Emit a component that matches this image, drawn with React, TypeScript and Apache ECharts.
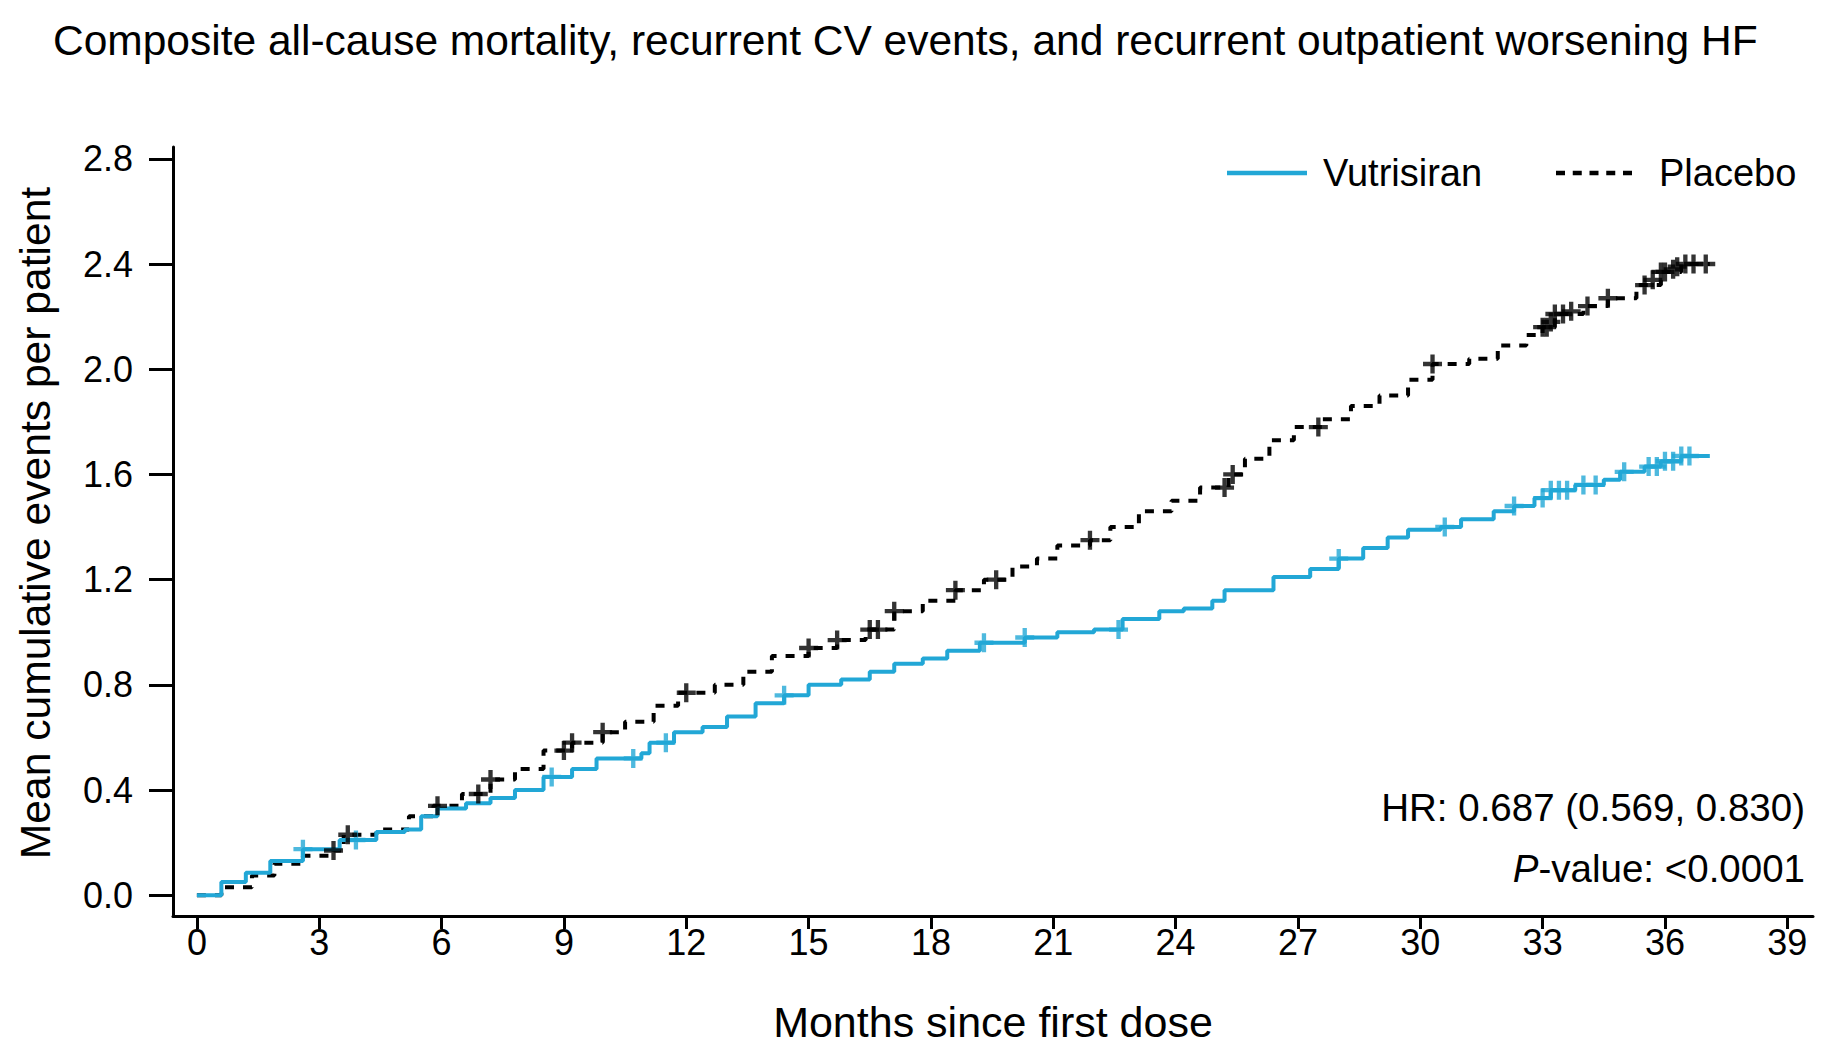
import React, { useEffect, useRef } from "react";
import * as echarts from "echarts";

const FONT = "'Liberation Sans', Arial, Helvetica, sans-serif";
const BLUE = "#22a7d6";

const titleText =
  "Composite all-cause mortality, recurrent CV events, and recurrent outpatient worsening HF";
const xAxisName = "Months since first dose";
const yAxisName = "Mean cumulative events per patient";
const xTicks = [0, 3, 6, 9, 12, 15, 18, 21, 24, 27, 30, 33, 36, 39];
const yTicks = [0, 0.4, 0.8, 1.2, 1.6, 2.0, 2.4, 2.8];

const vutrisiran: [number, number][] = [
  [0, 0], [0.6, 0.05], [1.2, 0.085], [1.8, 0.13], [2.6, 0.175], [3.5, 0.21], [4.4, 0.24],
  [5.1, 0.25], [5.5, 0.3], [5.9, 0.33], [6.6, 0.35], [7.2, 0.37], [7.8, 0.4], [8.5, 0.45],
  [9.2, 0.48], [9.8, 0.52], [10.9, 0.54], [11.1, 0.58], [11.7, 0.62], [12.4, 0.64],
  [13.0, 0.68], [13.7, 0.73], [14.4, 0.76], [15.0, 0.8], [15.8, 0.82], [16.5, 0.85],
  [17.1, 0.88], [17.8, 0.9], [18.4, 0.93], [19.2, 0.96], [20.3, 0.98], [21.1, 1.0],
  [22.0, 1.01], [22.7, 1.05], [23.6, 1.08], [24.2, 1.09], [24.9, 1.12], [25.2, 1.16],
  [26.4, 1.21], [27.3, 1.24], [28.0, 1.28], [28.6, 1.32], [29.2, 1.36], [29.7, 1.39],
  [30.5, 1.4], [31.0, 1.43], [31.8, 1.46], [32.3, 1.48], [32.8, 1.51], [33.2, 1.54],
  [33.8, 1.56], [34.5, 1.58], [34.9, 1.61], [35.5, 1.63], [35.9, 1.65], [36.4, 1.67],
  [37.1, 1.67],
];

const placebo: [number, number][] = [
  [0, 0], [0.6, 0.03], [1.35, 0.075], [1.9, 0.12], [2.6, 0.15], [3.35, 0.17], [3.6, 0.23],
  [4.4, 0.25], [5.2, 0.3], [5.8, 0.34], [6.5, 0.385], [7.2, 0.44], [7.8, 0.48], [8.5, 0.55],
  [9.2, 0.58], [9.95, 0.62], [10.5, 0.66], [11.2, 0.72], [11.8, 0.77], [12.7, 0.8],
  [13.4, 0.85], [14.1, 0.91], [15.0, 0.94], [15.7, 0.97], [16.4, 1.01], [17.1, 1.08],
  [17.8, 1.12], [18.6, 1.16], [19.3, 1.2], [20.0, 1.25], [20.6, 1.28], [21.1, 1.33],
  [21.9, 1.35], [22.4, 1.4], [23.1, 1.46], [23.9, 1.5], [24.6, 1.55], [25.3, 1.6],
  [25.7, 1.66], [26.3, 1.73], [26.9, 1.78], [27.6, 1.81], [28.3, 1.86], [29.0, 1.9],
  [29.7, 1.96], [30.3, 2.02], [31.2, 2.04], [31.9, 2.09], [32.6, 2.13], [33.0, 2.16],
  [33.3, 2.21], [34.0, 2.24], [34.6, 2.27], [35.3, 2.32], [35.9, 2.37], [36.4, 2.4],
  [37.1, 2.4],
];

const vutrisiranCensor: [number, number][] = [
  [2.6, 0.175], [3.9, 0.21], [8.7, 0.45], [10.7, 0.52], [11.5, 0.58], [14.4, 0.76],
  [19.3, 0.96], [20.3, 0.98], [22.6, 1.01], [28.0, 1.28], [30.6, 1.4], [32.3, 1.48],
  [33.0, 1.51], [33.2, 1.54], [33.4, 1.54], [33.6, 1.54], [34.0, 1.56], [34.3, 1.56],
  [35.0, 1.61], [35.6, 1.63], [35.8, 1.63], [36.0, 1.65], [36.2, 1.65], [36.4, 1.67],
  [36.6, 1.67],
];

const placeboCensor: [number, number][] = [
  [3.35, 0.17], [3.7, 0.23], [5.9, 0.34], [6.9, 0.385], [7.2, 0.44], [9.0, 0.55],
  [9.2, 0.58], [9.95, 0.62], [12.0, 0.77], [15.0, 0.94], [15.7, 0.97], [16.5, 1.01],
  [16.7, 1.01], [17.1, 1.08], [18.6, 1.16], [19.6, 1.2], [21.9, 1.35], [25.2, 1.55],
  [25.4, 1.6], [27.5, 1.78], [30.3, 2.02], [33.0, 2.16], [33.1, 2.16], [33.2, 2.18],
  [33.3, 2.21], [33.5, 2.21], [33.7, 2.22], [34.1, 2.24], [34.6, 2.27], [35.5, 2.32],
  [35.7, 2.34], [35.9, 2.37], [36.0, 2.37], [36.2, 2.38], [36.3, 2.39], [36.5, 2.4],
  [36.7, 2.4], [37.0, 2.4],
];

const hrText = "HR: 0.687 (0.569, 0.830)";
const pLabel = "P";
const pRest = "-value: <0.0001";
const seriesNames = ["Vutrisiran", "Placebo"];

const PLUS = "path://M8.5,0 H13.5 V8.5 H22 V13.5 H13.5 V22 H8.5 V13.5 H0 V8.5 H8.5 Z";

export default function App() {
  const ref = useRef<HTMLDivElement>(null);
  useEffect(() => {
    if (!ref.current) return;
    const chart = echarts.init(ref.current, null, { renderer: "svg" });
    const option: any = {
      animation: false,
      backgroundColor: "#ffffff",
      title: {
        text: titleText,
        left: 53,
        top: 19,
        padding: 0,
        textStyle: { fontFamily: FONT, fontSize: 42.5, fontWeight: "normal", color: "#000" },
      },
      grid: { left: 173, right: 20, top: 147, bottom: 141, containLabel: false },
      xAxis: {
        type: "value",
        min: -0.586,
        max: 39.63,
        name: xAxisName,
        nameLocation: "middle",
        nameGap: 84,
        nameTextStyle: { fontFamily: FONT, fontSize: 43, color: "#000" },
        axisLine: { show: true, onZero: false, lineStyle: { color: "#000", width: 3 } },
        axisTick: {
          show: true,
          length: 13,
          customValues: xTicks,
          lineStyle: { color: "#000", width: 3 },
        },
        axisLabel: {
          customValues: xTicks,
          fontFamily: FONT,
          fontSize: 36,
          color: "#000",
          margin: 8,
        },
        splitLine: { show: false },
      },
      yAxis: {
        type: "value",
        min: -0.079,
        max: 2.845,
        axisLine: { show: true, onZero: false, lineStyle: { color: "#000", width: 3 } },
        axisTick: {
          show: true,
          length: 24,
          customValues: yTicks,
          lineStyle: { color: "#000", width: 3 },
        },
        axisLabel: {
          customValues: yTicks,
          fontFamily: FONT,
          fontSize: 36,
          color: "#000",
          margin: 40,
          formatter: (v: number) => v.toFixed(1),
        },
        splitLine: { show: false },
      },
      series: [
        {
          name: seriesNames[0],
          type: "line",
          step: "end",
          data: vutrisiran,
          showSymbol: false,
          symbol: "none",
          lineStyle: { color: BLUE, width: 4 },
          z: 3,
        },
        {
          name: seriesNames[1],
          type: "line",
          step: "end",
          data: placebo,
          showSymbol: false,
          symbol: "none",
          lineStyle: { color: "#000", width: 4, type: [9, 9] },
          z: 2,
        },
        {
          name: seriesNames[0] + " censored",
          type: "scatter",
          data: vutrisiranCensor,
          symbol: PLUS,
          symbolSize: 19,
          itemStyle: { color: BLUE },
          z: 4,
        },
        {
          name: seriesNames[1] + " censored",
          type: "scatter",
          data: placeboCensor,
          symbol: PLUS,
          symbolSize: 19,
          itemStyle: { color: "#000" },
          z: 4,
        },
      ],
      graphic: [
        {
          type: "text",
          x: 35,
          y: 523,
          rotation: Math.PI / 2,
          style: {
            text: yAxisName,
            fontFamily: FONT,
            fontSize: 42.6,
            fill: "#000",
            align: "center",
            verticalAlign: "middle",
          },
        },
        {
          type: "line",
          shape: { x1: 1227, y1: 173, x2: 1307, y2: 173 },
          style: { stroke: BLUE, lineWidth: 4.5 },
        },
        {
          type: "text",
          x: 1323,
          y: 173,
          style: {
            text: seriesNames[0],
            fontFamily: FONT,
            fontSize: 38,
            fill: "#000",
            verticalAlign: "middle",
            align: "left",
          },
        },
        {
          type: "line",
          shape: { x1: 1556, y1: 173, x2: 1632, y2: 173 },
          style: { stroke: "#000", lineWidth: 4.5, lineDash: [9, 7.75] },
        },
        {
          type: "text",
          x: 1659,
          y: 173,
          style: {
            text: seriesNames[1],
            fontFamily: FONT,
            fontSize: 38,
            fill: "#000",
            verticalAlign: "middle",
            align: "left",
          },
        },
        {
          type: "text",
          x: 1805,
          y: 807,
          style: {
            text: hrText,
            fontFamily: FONT,
            fontSize: 38.5,
            fill: "#000",
            verticalAlign: "middle",
            align: "right",
          },
        },
        {
          type: "text",
          x: 1805,
          y: 868,
          style: {
            text: "{i|" + pLabel + "}{n|" + pRest + "}",
            align: "right",
            verticalAlign: "middle",
            fill: "#000",
            fontFamily: FONT,
            fontSize: 38.5,
            rich: {
              i: { fontFamily: FONT, fontSize: 38.5, fontStyle: "italic", fill: "#000" },
              n: { fontFamily: FONT, fontSize: 38.5, fill: "#000" },
            },
          },
        },
      ],
    };
    chart.setOption(option);
    return () => chart.dispose();
  }, []);
  return (
    <div
      ref={ref}
      style={{ position: "absolute", left: 0, top: 0, width: 1833, height: 1057 }}
    />
  );
}
